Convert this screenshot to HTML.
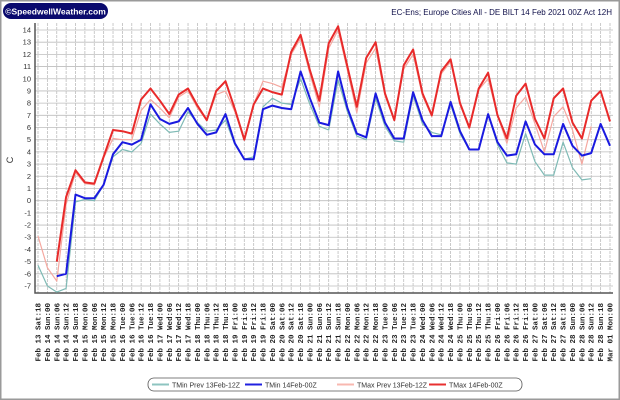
<!DOCTYPE html>
<html><head><meta charset="utf-8"><style>
body{margin:0;background:#fff;}
svg{display:block;font-family:"Liberation Sans",sans-serif;}
</style></head><body>
<svg id="chart" width="620" height="400" viewBox="0 0 620 400" xmlns="http://www.w3.org/2000/svg">
<rect x="0.5" y="0.5" width="619" height="399" fill="#fff" stroke="#9a9a9a" stroke-width="2"/>
<rect x="3" y="3" width="105" height="16" rx="8" fill="#0a0a6e"/>
<text x="55.5" y="14.5" fill="#fff" font-size="8.5" font-weight="bold" text-anchor="middle">©SpeedwellWeather.com</text>
<text x="612" y="15" fill="#10104a" font-size="8" text-anchor="end">EC-Ens; Europe Cities All - DE BILT 14 Feb 2021 00Z Act 12H</text>
<text transform="translate(13,160) rotate(-90)" font-size="9" fill="#333" text-anchor="middle">C</text>
<g id="grid"></g><g id="axes"></g><g id="series"></g><g id="xlabels"></g>
<g>
<rect x="148" y="378" width="374" height="13" rx="6" fill="#fff" stroke="#555" stroke-width="0.8"/>
<line x1="152" y1="384.5" x2="169" y2="384.5" stroke="#8ec4c0" stroke-width="2"/>
<text x="172" y="387.5" font-size="7" fill="#333">TMin Prev 13Feb-12Z</text>
<line x1="245" y1="384.5" x2="262" y2="384.5" stroke="#2020e0" stroke-width="2"/>
<text x="265" y="387.5" font-size="7" fill="#333">TMin 14Feb-00Z</text>
<line x1="337" y1="384.5" x2="354" y2="384.5" stroke="#f8b8b0" stroke-width="2"/>
<text x="357" y="387.5" font-size="7" fill="#333">TMax Prev 13Feb-12Z</text>
<line x1="429" y1="384.5" x2="446" y2="384.5" stroke="#e83030" stroke-width="2"/>
<text x="449" y="387.5" font-size="7" fill="#333">TMax 14Feb-00Z</text>
</g>
</svg>
<script>
const days = ["Sat","Sun","Mon","Tue","Wed","Thu","Fri"];
const hours = ["00","06","12","18"];
const yTicks = [-7,-6,-5,-4,-3,-2,-1,0,1,2,3,4,5,6,7,8,9,10,11,12,13,14];
const tmaxPrev = [-2.9,-5.5,-6.6,-0.3,2.3,1.4,1.3,3.5,5.1,5.0,5.0,7.4,8.3,7.6,6.8,8.5,9.0,7.6,6.6,8.7,9.0,7.3,5.0,7.9,9.8,9.6,9.3,12.0,13.3,10.4,7.7,12.5,14.0,10.7,7.2,11.3,12.5,8.6,6.6,10.8,12.0,8.6,6.9,10.4,11.4,7.9,5.9,9.1,10.0,7.0,4.7,7.6,8.5,6.3,4.0,6.9,7.7,5.8,3.0,6.1,null,null];
const tmax = [null,null,-5.0,0.3,2.5,1.5,1.4,3.6,5.8,5.7,5.5,8.3,9.2,8.2,7.1,8.7,9.2,7.8,6.6,9.0,9.8,7.5,5.0,7.9,9.2,8.9,8.7,12.2,13.6,10.7,8.2,12.9,14.3,11.0,7.7,11.7,13.0,8.8,6.6,11.1,12.4,8.8,7.0,10.6,11.6,8.0,6.0,9.2,10.5,7.0,5.1,8.6,9.6,6.7,5.1,8.4,9.2,6.4,5.1,8.2,9.0,6.5];
const tmin = [null,null,-6.2,-6.0,0.5,0.2,0.2,1.3,3.8,4.8,4.6,5.0,7.9,6.7,6.3,6.5,7.6,6.3,5.4,5.6,7.1,4.7,3.4,3.4,7.5,7.8,7.6,7.5,10.6,8.4,6.4,6.2,10.6,7.6,5.5,5.2,8.8,6.4,5.1,5.1,8.9,6.6,5.3,5.3,8.1,5.7,4.2,4.2,7.1,4.8,3.7,3.8,6.5,4.6,3.8,3.8,6.3,4.5,3.7,3.9,6.3,4.5];
const tminPrev = [-5.3,-7.0,-7.5,-7.2,-0.1,0.1,0.0,1.3,3.6,4.2,4.0,4.7,7.1,6.3,5.6,5.7,7.3,6.4,5.7,5.8,6.6,4.6,3.4,3.6,7.7,8.4,8.0,7.9,10.0,7.9,6.1,5.8,9.9,7.3,5.3,5.0,8.4,6.1,4.9,4.8,8.6,6.3,5.6,5.4,7.9,5.5,4.2,4.2,7.1,4.6,3.1,3.0,5.5,3.2,2.1,2.1,4.8,2.7,1.7,1.8,null,null];

const NS="http://www.w3.org/2000/svg";
const N=62, X0=38, X1=610, YT=30, YB=286, L=35, R=613, T=23, B=293;
const xs=i=>X0+(X1-X0)*i/(N-1);
const ys=v=>YB-(v+7)*(YB-YT)/21;
function mk(tag,parent){const e=document.createElementNS(NS,tag);parent.appendChild(e);return e;}
const grid=document.getElementById('grid'), axes=document.getElementById('axes'), ser=document.getElementById('series'), xl=document.getElementById('xlabels');

const cats=[];
cats.push("Feb 13 Sat:18");
for(let d=14; d<=28; d++){for(const h of hours){cats.push("Feb "+d+" "+days[(d-13)%7]+":"+h);}}
cats.push("Mar 01 Mon:00");

yTicks.forEach(v=>{
 const l=mk('line',grid);
 
 
 l.setAttribute('x1',L);l.setAttribute('x2',R);l.setAttribute('y1',ys(v));l.setAttribute('y2',ys(v));
 l.setAttribute('stroke','#bdbdbd');l.setAttribute('stroke-width','0.8');
 const t=mk('text',axes);
 
 
 t.setAttribute('x',31);t.setAttribute('y',ys(v)+2.5);t.setAttribute('text-anchor','end');
 t.setAttribute('font-size','7.5');t.setAttribute('fill','#333');t.textContent=v;
});
for(let i=0;i<N;i++){
 const l=mk('line',grid);
 
 
 l.setAttribute('x1',xs(i));l.setAttribute('x2',xs(i));l.setAttribute('y1',T);l.setAttribute('y2',B);
 l.setAttribute('stroke','#bdbdbd');l.setAttribute('stroke-width','0.8');l.setAttribute('stroke-dasharray','3,1');
 const t=mk('text',xl);
 
 
 t.setAttribute('transform','translate('+(xs(i)+2.5)+',303) rotate(-90)');
 t.setAttribute('text-anchor','end');t.setAttribute('font-size','7.5');t.setAttribute('font-weight','bold');
 t.setAttribute('font-family','"Liberation Mono",monospace');t.setAttribute('fill','#222');
 t.textContent=cats[i];
}
const ax=mk('path',axes);


ax.setAttribute('d','M'+L+' '+T+' V'+B+' H'+R);
ax.setAttribute('stroke','#555');ax.setAttribute('stroke-width','1.5');ax.setAttribute('fill','none');

function line(data,color,w,name){
 let d='',pen=false;
 data.forEach((v,i)=>{ if(v===null){pen=false;return;} d+=(pen?'L':'M')+xs(i).toFixed(1)+' '+ys(v).toFixed(1)+' '; pen=true;});
 const p=mk('path',ser);
 
 
 p.setAttribute('d',d);p.setAttribute('stroke',color);p.setAttribute('stroke-width',w);
 p.setAttribute('fill','none');p.setAttribute('stroke-linejoin','round');
}
line(tminPrev,'#7fbab5',1.2,'tmin-prev-line');
line(tmaxPrev,'#f5a8a0',1.2,'tmax-prev-line');
line(tmin,'#1a1ae0',2,'tmin-line');
line(tmax,'#e82a2a',2,'tmax-line');
</script>
</body></html>
